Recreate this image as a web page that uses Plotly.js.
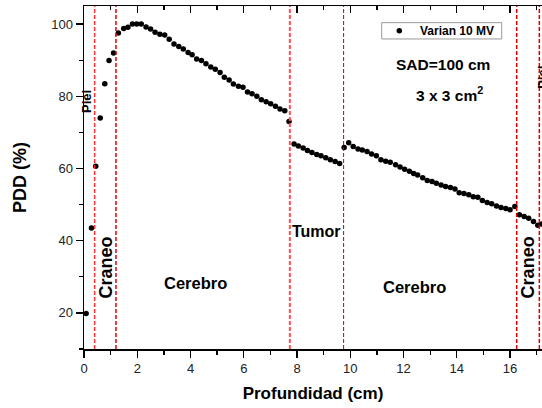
<!DOCTYPE html>
<html>
<head>
<meta charset="utf-8">
<script src="https://cdn.plot.ly/plotly-3.0.1.min.js"></script>
<style>
  html, body { margin: 0; padding: 0; background: #fff; overflow: hidden; }
  #chart { width: 542px; height: 408px; }
</style>
</head>
<body>
<div id="chart"></div>
<script>
// ---- data ----
const depthCm = [
  0.08, 0.28, 0.44, 0.61, 0.78, 0.94, 1.11, 1.29, 1.49, 1.65,
  1.82, 1.98, 2.15, 2.33, 2.50, 2.67, 2.85, 3.03, 3.20, 3.38,
  3.56, 3.73, 3.91, 4.06, 4.23, 4.41, 4.58, 4.76, 4.93, 5.11,
  5.27, 5.45, 5.61, 5.80, 5.97, 6.14, 6.31, 6.49, 6.66, 6.84,
  7.01, 7.19, 7.36, 7.54, 7.70, 7.89, 8.05, 8.23, 8.39, 8.56,
  8.74, 8.90, 9.08, 9.25, 9.43, 9.60, 9.77, 9.94, 10.11, 10.29,
  10.45, 10.63, 10.80, 10.98, 11.15, 11.33, 11.50, 11.70, 11.87, 12.04,
  12.22, 12.38, 12.53, 12.72, 12.89, 13.07, 13.23, 13.41, 13.58, 13.76,
  13.93, 14.09, 14.27, 14.45, 14.62, 14.79, 14.96, 15.14, 15.31, 15.49,
  15.66, 15.84, 16.00, 16.18, 16.35, 16.53, 16.70, 16.88, 17.04, 17.19
];
const pddPercent = [
  19.8, 43.5, 60.6, 74.0, 83.5, 89.9, 92.0, 97.5, 98.8, 99.1,
  100.0, 100.0, 100.0, 99.2, 98.6, 97.7, 97.2, 97.0, 95.8, 94.5,
  93.8, 93.1, 92.1, 91.5, 90.3, 89.9, 89.0, 88.1, 87.5, 86.6,
  85.3, 84.5, 83.4, 82.8, 82.5, 81.2, 80.7, 80.0, 79.0, 78.5,
  77.9, 77.2, 76.5, 76.0, 73.0, 66.8, 66.2, 65.7, 65.0, 64.4,
  63.9, 63.5, 63.0, 62.4, 61.9, 61.4, 65.8, 67.1, 66.1, 65.4,
  65.1, 64.7, 64.0, 63.5, 62.4, 62.0, 61.7, 61.0, 60.4, 59.8,
  59.2, 58.6, 58.2, 57.4, 56.7, 56.4, 55.9, 55.4, 55.0, 54.7,
  54.3, 53.3, 53.1, 52.7, 52.2, 52.0, 51.1, 50.6, 50.2, 49.6,
  49.2, 48.9, 48.6, 49.5, 47.2, 46.7, 46.2, 45.3, 44.3, 44.6
];
const seriesName = "Varian 10 MV";
// tissue boundaries (cm)
const boundariesCm = [0.4, 1.2, 7.73, 9.75, 16.25, 17.1];
const xTickVals = [0, 2, 4, 6, 8, 10, 12, 14, 16];
const yTickVals = [20, 40, 60, 80, 100];

// ---- styles ----
const FONT = "'Liberation Sans', Arial, sans-serif";
const boundaryStyles = [
  {color: '#ff3030', width: 1.5},
  {color: '#e00000', width: 1.5},
  {color: '#ff5050', width: 2},
  {color: '#c00000', width: 1},
  {color: '#e00000', width: 1.5},
  {color: '#e00000', width: 1.5}
];
const MARKER_SIZE = 5.5;

const traces = [
  {
    x: depthCm, y: pddPercent, type: 'scatter', mode: 'markers',
    name: seriesName, showlegend: false,
    marker: {color: '#000', size: MARKER_SIZE},
    hoverinfo: 'x+y'
  },
  {
    x: [null], y: [null], xaxis: 'x2', yaxis: 'y', type: 'scatter',
    mode: 'markers', showlegend: false, hoverinfo: 'skip'
  }
];

const shapes = boundariesCm.map((b, i) => ({
  type: 'line', xref: 'x', yref: 'paper', x0: b, x1: b, y0: 0, y1: 1,
  line: {color: boundaryStyles[i].color, width: boundaryStyles[i].width, dash: '4px,2px'}
}));

// legend box (drawn as shapes + text, to match the compact reference key)
const LEG = {x0: 0.650, x1: 0.912, y0: 0.9039, y1: 0.9514, dotX: 0.6884, textX: 0.7321, midY: 0.9275};
shapes.push({
  type: 'rect', xref: 'paper', yref: 'paper',
  x0: LEG.x0, x1: LEG.x1, y0: LEG.y0, y1: LEG.y1,
  fillcolor: '#fff', line: {color: '#999', width: 1}
});
shapes.push({
  type: 'circle', xref: 'paper', yref: 'paper',
  xsizemode: 'pixel', ysizemode: 'pixel',
  xanchor: LEG.dotX, yanchor: LEG.midY,
  x0: -MARKER_SIZE / 2, x1: MARKER_SIZE / 2, y0: -MARKER_SIZE / 2, y1: MARKER_SIZE / 2,
  fillcolor: '#000', line: {width: 0}
});

function ann(text, x, y, size, rot, extra) {
  return Object.assign({
    text: text, x: x, y: y, xref: 'x', yref: 'y', showarrow: false,
    textangle: rot || 0,
    font: {family: FONT, size: size, color: '#000', weight: 'bold'}
  }, extra || {});
}

const annotations = [
  ann('Piel', 0.10, 78.6, 13, -90),
  ann('Craneo', 0.83, 32.6, 18, -90),
  ann('Cerebro', 4.18, 28.2, 16.5),
  ann('Tumor', 8.75, 42.5, 16),
  ann('Cerebro', 12.41, 27.3, 16.5),
  ann('Craneo', 16.66, 32.5, 18, -90),
  ann('Piel', 1, 85.1, 13, -90, {xref: 'paper', xanchor: 'center', xshift: 1}),
  ann('SAD=100 cm', 13.49, 88.7, 15.5),
  ann('3 x 3 cm<sup>2</sup>', 13.74, 80.6, 15.5),
  ann(seriesName, LEG.textX, LEG.midY, 12, 0,
      {xref: 'paper', yref: 'paper', xanchor: 'left', yanchor: 'middle', xshift: -1})
];

const axisLine = {showline: true, linecolor: '#000', linewidth: 1.5, zeroline: false, showgrid: false};

const layout = {
  width: 542, height: 408,
  margin: {l: 84, r: 0, t: 6, b: 58.7},
  paper_bgcolor: '#fff', plot_bgcolor: '#fff',
  font: {family: FONT, size: 13, color: '#222'},
  showlegend: false,
  xaxis: Object.assign({}, axisLine, {
    range: [0, 17.2], tickmode: 'array', tickvals: xTickVals,
    ticks: 'outside', ticklen: 7, tickwidth: 1.3, tickcolor: '#000',
    minor: {dtick: 1, tick0: 0, ticks: 'outside', ticklen: 4, tickwidth: 1.3, tickcolor: '#000'},
    tickfont: {family: FONT, size: 13, color: '#222'},
    title: {text: 'Profundidad (cm)', standoff: 12,
            font: {family: FONT, size: 17, color: '#000', weight: 'bold'}}
  }),
  xaxis2: Object.assign({}, axisLine, {
    overlaying: 'x', side: 'top', range: [0, 17.2],
    tickmode: 'array', tickvals: xTickVals, showticklabels: false,
    ticks: 'inside', ticklen: 7, tickwidth: 1.3, tickcolor: '#000',
    minor: {dtick: 1, tick0: 0, ticks: 'inside', ticklen: 4, tickwidth: 1.3, tickcolor: '#000'}
  }),
  yaxis: Object.assign({}, axisLine, {
    range: [10, 105], tickmode: 'array', tickvals: yTickVals,
    ticks: 'outside', ticklen: 7, tickwidth: 1.3, tickcolor: '#000',
    minor: {dtick: 10, tick0: 10, ticks: 'outside', ticklen: 4, tickwidth: 1.3, tickcolor: '#000'},
    tickfont: {family: FONT, size: 13, color: '#222'},
    title: {text: 'PDD (%)', standoff: 20,
            font: {family: FONT, size: 18, color: '#000', weight: 'bold'}}
  }),
  shapes: shapes,
  annotations: annotations
};

Plotly.newPlot('chart', traces, layout, {displayModeBar: false, staticPlot: true});
</script>
</body>
</html>
